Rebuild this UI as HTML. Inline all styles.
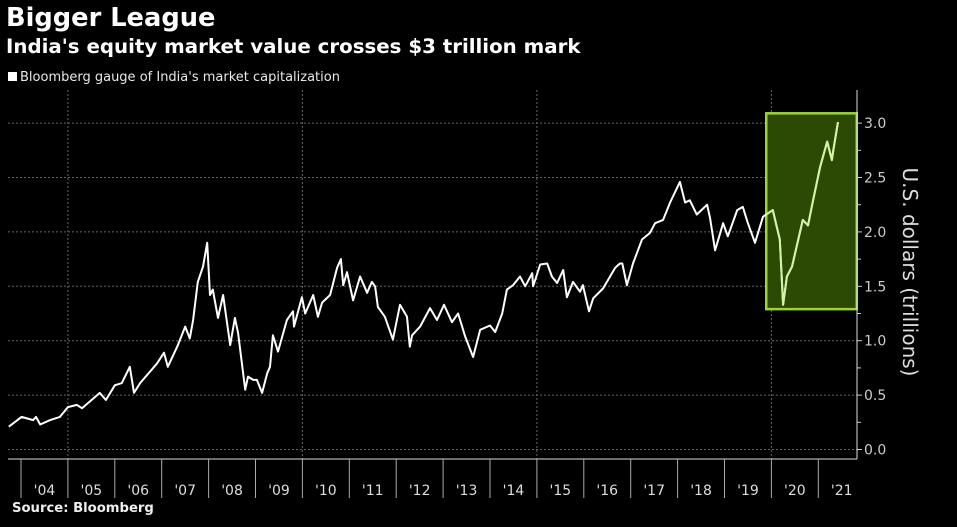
<!DOCTYPE html>
<html><head><meta charset="utf-8"><style>
html,body{margin:0;padding:0;background:#000;width:957px;height:527px;overflow:hidden;font-family:"DejaVu Sans","Liberation Sans",sans-serif;}
.t{position:absolute;color:#fff;white-space:nowrap;}
</style></head><body>
<div class="t" style="left:6px;top:3px;font-size:25.7px;font-weight:bold;">Bigger League</div>
<div class="t" style="left:6px;top:35px;font-size:19.8px;font-weight:bold;">India's equity market value crosses $3 trillion mark</div>
<div class="t" style="left:8px;top:70px;font-size:13px;color:#e8e8e8;"><span style="display:inline-block;width:9px;height:9px;background:#fff;margin-right:3px;"></span>Bloomberg gauge of India's market capitalization</div>
<div class="t" style="left:12px;top:501px;font-size:13.2px;font-weight:bold;color:#eee;">Source: Bloomberg</div>
<svg id="chart" width="957" height="527" style="position:absolute;left:0;top:0;"></svg>
<script>
const years=[2003.74,2004.01,2004.26,2004.32,2004.41,2004.62,2004.83,2005.00,2005.19,2005.30,2005.68,2005.81,2006.00,2006.15,2006.32,2006.41,2006.54,2006.90,2007.05,2007.13,2007.33,2007.50,2007.60,2007.67,2007.77,2007.88,2007.97,2008.03,2008.09,2008.20,2008.31,2008.46,2008.56,2008.63,2008.78,2008.84,2008.95,2009.03,2009.14,2009.25,2009.31,2009.37,2009.48,2009.67,2009.80,2009.82,2009.99,2010.06,2010.23,2010.33,2010.42,2010.59,2010.74,2010.82,2010.87,2010.95,2011.08,2011.23,2011.38,2011.48,2011.55,2011.61,2011.76,2011.93,2012.08,2012.23,2012.29,2012.34,2012.51,2012.72,2012.87,2013.02,2013.19,2013.32,2013.47,2013.64,2013.79,2014.00,2014.11,2014.26,2014.36,2014.49,2014.64,2014.75,2014.90,2014.92,2015.07,2015.22,2015.32,2015.43,2015.56,2015.64,2015.77,2015.92,2015.98,2016.11,2016.20,2016.41,2016.67,2016.77,2016.82,2016.92,2017.05,2017.24,2017.41,2017.52,2017.69,2017.84,2018.05,2018.16,2018.26,2018.41,2018.63,2018.69,2018.80,2018.97,2019.07,2019.27,2019.39,2019.50,2019.65,2019.82,2020.03,2020.18,2020.25,2020.33,2020.44,2020.67,2020.78,2020.89,2021.04,2021.19,2021.29,2021.32,2021.42];
const values=[0.21,0.30,0.27,0.30,0.23,0.27,0.30,0.39,0.41,0.38,0.52,0.455,0.59,0.61,0.76,0.52,0.61,0.79,0.89,0.76,0.945,1.13,1.02,1.19,1.54,1.68,1.90,1.42,1.47,1.21,1.42,0.96,1.21,1.07,0.55,0.67,0.64,0.64,0.52,0.70,0.76,1.05,0.90,1.19,1.27,1.13,1.40,1.25,1.42,1.22,1.35,1.42,1.67,1.75,1.51,1.63,1.37,1.59,1.44,1.54,1.50,1.31,1.22,1.01,1.33,1.22,0.945,1.05,1.13,1.30,1.19,1.33,1.17,1.25,1.04,0.85,1.10,1.14,1.08,1.25,1.47,1.51,1.59,1.50,1.62,1.50,1.70,1.71,1.59,1.53,1.65,1.40,1.54,1.45,1.51,1.27,1.39,1.48,1.67,1.71,1.71,1.51,1.71,1.93,1.99,2.08,2.11,2.27,2.46,2.27,2.29,2.16,2.25,2.13,1.83,2.08,1.96,2.20,2.23,2.08,1.90,2.14,2.20,1.93,1.33,1.59,1.68,2.11,2.06,2.29,2.60,2.83,2.66,2.75,3.01];
const yTicks=[0,0.5,1,1.5,2,2.5,3];
const yTickLabels=["0.0","0.5","1.0","1.5","2.0","2.5","3.0"];
const xYears=[2004,2005,2006,2007,2008,2009,2010,2011,2012,2013,2014,2015,2016,2017,2018,2019,2020,2021];
const xLabels=["'04","'05","'06","'07","'08","'09","'10","'11","'12","'13","'14","'15","'16","'17","'18","'19","'20","'21"];
const gridYears=[2005,2010,2015,2020];
const highlight=[2019.89,2021.82,1.29,3.09];

const svg=document.getElementById('chart');
const NS='http://www.w3.org/2000/svg';
const L=8,R=857,AX=459;
const FF='DejaVu Sans, Liberation Sans, sans-serif';
const X=y=>21+(y-2004)*46.9;
const Y=v=>449.5-v*108.8;
function mk(t,a,p){const e=document.createElementNS(NS,t);for(const k in a)e.setAttribute(k,a[k]);(p||svg).appendChild(e);return e;}

yTicks.forEach((v,i)=>{
  const g=mk('line',{x1:L,x2:R,y1:Y(v),y2:Y(v),stroke:'#666','stroke-dasharray':'2,2','stroke-width':1});
  
  
  const tk=mk('line',{x1:R,x2:R+5,y1:Y(v),y2:Y(v),stroke:'#ccc'});
  
  
  const tx=mk('text',{x:R+7,y:Y(v)+5,fill:'#ccc','font-size':14,'font-family':FF});
  tx.textContent=yTickLabels[i];
  
  
  if(i<yTicks.length-1){const m=mk('line',{x1:R,x2:R+4,y1:Y(v+0.25),y2:Y(v+0.25),stroke:'#ccc'});
  
  }
});
gridYears.forEach(yr=>{
  const g=mk('line',{x1:X(yr),x2:X(yr),y1:90,y2:AX,stroke:'#666','stroke-dasharray':'2,2'});
  
  
});
const hb=mk('rect',{x:X(highlight[0]),y:Y(highlight[3]),width:X(highlight[1])-X(highlight[0]),height:Y(highlight[2])-Y(highlight[3]),fill:'#2d4a05',stroke:'#9bd43c','stroke-width':2.5});


const yax=mk('line',{x1:R,x2:R,y1:90,y2:AX,stroke:'#ddd'});


const xax=mk('line',{x1:L,x2:R,y1:AX,y2:AX,stroke:'#ddd'});


xYears.forEach((yr,i)=>{
  const t=mk('line',{x1:X(yr),x2:X(yr),y1:AX,y2:498,stroke:'#aaa'});
  
  
  const tx=mk('text',{x:X(yr+0.5),y:495,fill:'#ddd','font-size':14,'text-anchor':'middle','font-family':FF});
  tx.textContent=xLabels[i];
  
  
});
const pts=years.map((y,i)=>X(y).toFixed(1)+','+Y(values[i]).toFixed(1)).join(' ');
const line=mk('polyline',{points:pts,fill:'none',stroke:'#fff','stroke-width':2,'stroke-linejoin':'round'});


const defs=mk('defs',{});
const cp=mk('clipPath',{id:'hc'},defs);
mk('rect',{x:X(highlight[0]),y:0,width:200,height:527},cp);
const line2=mk('polyline',{points:pts,fill:'none',stroke:'#d4f2a0','stroke-width':2,'stroke-linejoin':'round','clip-path':'url(#hc)'});


const yt=mk('text',{x:0,y:0,fill:'#ddd','font-size':20,'text-anchor':'middle','font-family':FF,transform:'translate(903,272) rotate(90)'});
yt.textContent='U.S. dollars (trillions)';


</script>
</body></html>
